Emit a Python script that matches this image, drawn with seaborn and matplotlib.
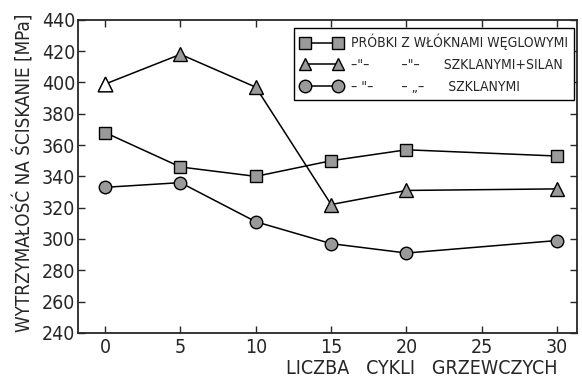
import pandas as pd
import seaborn as sns
import matplotlib
matplotlib.use('Agg')
import matplotlib.pyplot as plt
from matplotlib.lines import Line2D

cycles = [0, 5, 10, 15, 20, 30]
carbon = [368, 346, 340, 350, 357, 353]
glass_silane = [399, 418, 397, 322, 331, 332]
glass = [333, 336, 311, 297, 291, 299]

labels = ['PRÓBKI Z WŁÓKNAMI WĘGLOWYMI',
          '–"–        –"–      SZKLANYMI+SILAN',
          '– "–       – „–      SZKLANYMI']
markers = ['s', '^', 'o']
x_ticks = [0, 5, 10, 15, 20, 25, 30]
y_ticks = list(range(240, 441, 20))


def build_frame():
    frames = []
    for name, vals in zip(labels, [carbon, glass_silane, glass]):
        frames.append(pd.DataFrame({'cykle': cycles, 'wytrzymalosc': vals, 'seria': name}))
    return pd.concat(frames, ignore_index=True)


def plot_chart(df):
    sns.set_style('ticks')
    plt.rcParams['font.family'] = ['DejaVu Sans']
    plt.rcParams['font.stretch'] = 'condensed'

    fig = plt.figure(figsize=(5.82, 3.83), dpi=100)
    ax = fig.add_axes([0.134, 0.131, 0.857, 0.817])

    fill = '#9a9a9a'
    for name, m in zip(labels, markers):
        sub = df[df['seria'] == name]
        sns.lineplot(data=sub, x='cykle', y='wytrzymalosc', ax=ax, color='black',
                     lw=1.1, marker=m, markersize=9 if m != '^' else 10,
                     markerfacecolor=fill, markeredgecolor='black',
                     markeredgewidth=1.0, legend=False)

    # first triangle is drawn empty in the original
    first = df[(df['seria'] == labels[1]) & (df['cykle'] == cycles[0])]
    sns.scatterplot(data=first, x='cykle', y='wytrzymalosc', ax=ax, marker='^',
                    s=110, color='white', edgecolor='black', linewidth=1.0,
                    zorder=5, legend=False)

    ax.set_xlim(-1.8, 31.3)
    ax.set_ylim(240, 440)
    ax.set_xticks(x_ticks)
    ax.set_yticks(y_ticks)
    ax.tick_params(direction='in', length=5, width=1, labelsize=14, pad=4,
                   top=True, right=True)
    ax.tick_params(axis='y', pad=2)
    for s in ax.spines.values():
        s.set_linewidth(1.3)
        s.set_visible(True)

    ax.set_xlabel('LICZBA   CYKLI   GRZEWCZYCH', fontsize=14)
    ax.xaxis.set_label_coords(0.69, -0.085)
    ax.set_ylabel('WYTRZYMAŁOŚĆ NA ŚCISKANIE [MPa]', fontsize=13.5)
    ax.yaxis.set_label_coords(-0.088, 0.51)

    handles = [Line2D([0], [0], color='black', lw=1.1, marker=m, markersize=9,
                      markerfacecolor=fill, markeredgecolor='black')
               for m in markers]
    leg = ax.legend(handles, labels, loc='upper right', bbox_to_anchor=(0.994, 0.975),
                    borderaxespad=0, numpoints=2, fontsize=10, handlelength=3.0,
                    handletextpad=0.6, fancybox=False, edgecolor='black',
                    framealpha=1, labelspacing=0.55, borderpad=0.45)
    leg.get_frame().set_linewidth(1.0)

    fig.savefig('out.png', dpi=100)


def main():
    df = build_frame()
    plot_chart(df)


if __name__ == "__main__":
    main()
